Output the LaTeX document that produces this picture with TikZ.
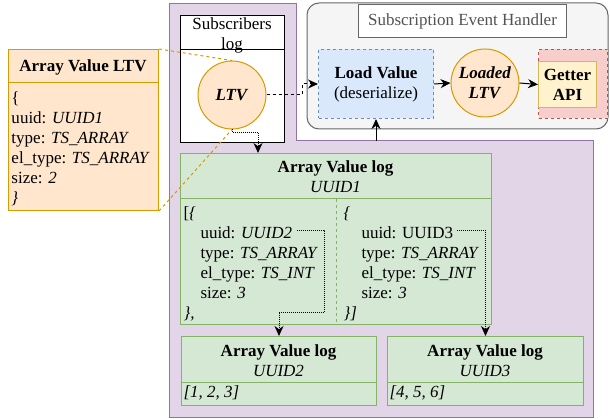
\documentclass[tikz,border=0pt]{standalone}
\usepackage{fontspec}
\setmainfont{Liberation Serif}
\usetikzlibrary{arrows.meta}

\definecolor{plfill}{HTML}{E1D5E7}
\definecolor{plline}{HTML}{9673A6}
\definecolor{hdfill}{HTML}{F5F5F5}
\definecolor{hdline}{HTML}{666666}
\definecolor{grfill}{HTML}{D5E8D4}
\definecolor{grline}{HTML}{82B366}
\definecolor{orfill}{HTML}{FFE6CC}
\definecolor{orline}{HTML}{D79B00}
\definecolor{blfill}{HTML}{DAE8FC}
\definecolor{blline}{HTML}{6C8EBF}
\definecolor{rdfill}{HTML}{F8CECC}
\definecolor{rdline}{HTML}{B85450}
\definecolor{ylfill}{HTML}{FFF2CC}
\definecolor{ylline}{HTML}{D6B656}

\tikzset{
  box/.style={anchor=north west, inner sep=0pt},
  grbox/.style={box, draw=grline, fill=grfill},
  orbox/.style={box, draw=orline, fill=orfill},
  circ/.style={circle, draw=orline, fill=orfill, inner sep=0pt, align=center},
  body/.style={anchor=north west, align=left, inner sep=0pt},
}

\begin{document}
\begin{tikzpicture}[x=1pt, y=-1pt, line width=1pt,
  >={Stealth[length=10pt,width=9pt]},
  every node/.style={font=\fontsize{17}{20}\selectfont}]
\useasboundingbox (0,0) rectangle (610,419);

% log area
\draw[fill=plfill, draw=plline] (169,4) -- (296,4) -- (296,141) -- (593,141) -- (593,417) -- (169,417) -- cycle;

% event handler
\draw[fill=hdfill, draw=hdline, rounded corners=12pt] (307,3) rectangle (608,129);
\node[box, draw=hdline, fill=white, text=hdline!80!black, minimum width=208pt, minimum height=33pt] (sehtitle) at (358,4) {Subscription Event Handler};
\node[box, draw=blline, fill=blfill, dashed, align=center, minimum width=115pt, minimum height=69pt] (loadv) at (318,49) {\textbf{Load Value}\\(deserialize)};
\node[circ, minimum size=68pt] (loaded) at (485,83) {\textbf{\textit{Loaded}}\\\textbf{\textit{LTV}}};
\node[box, draw=rdline, fill=rdfill, dashed, minimum width=69pt, minimum height=69pt] (getterbg) at (538,49) {};
\node[box, draw=ylline, fill=ylfill, align=center, minimum width=58pt, minimum height=46pt] (getter) at (538,61) {\textbf{Getter}\\\textbf{API}};

% subscribers log
\node[box, draw=black, fill=white, minimum width=104pt, minimum height=127pt] (sublog) at (180,15) {};
\node[align=center, inner sep=0pt] (sublogtitle) at (232,35) {Subscribers\\log};
\draw (180,50) -- (284,50);
\node[circ, minimum size=68pt] (ltv) at (232,95) {\textbf{\textit{LTV}}};

% array value LTV
\node[orbox, minimum width=150pt, minimum height=161pt] (avltv) at (8,49) {};
\draw[orline] (8,83) -- (158,83);
\node (avltvtitle) at (83,67) {\textbf{Array Value LTV}};
\node[body] (avltvbody) at (11,91) {\{\\uuid: \textit{UUID1}\\type: \textit{TS\_ARRAY}\\el\_type: \textit{TS\_ARRAY}\\size: \textit{2}\\\textit{\}}};

% array value logs
\node[grbox, minimum width=311pt, minimum height=171pt] (avl1) at (180,153) {};
\draw[grline] (180,199) -- (491,199);
\draw[grline, dashed] (336,199) -- (336,324);
\node[align=center, inner sep=0pt] (avl1title) at (335.5,177) {\textbf{Array Value log}\\\textit{UUID1}};
\node[body] (avl1left) at (183,206) {[\textit{\{}\\\hspace*{17pt}uuid: \textit{UUID2}\\\hspace*{17pt}type: \textit{TS\_ARRAY}\\\hspace*{17pt}el\_type: \textit{TS\_INT}\\\hspace*{17pt}size: \textit{3}\\\textit{\},}};
\node[body] (avl1right) at (343,206) {\textit{\{}\\\hspace*{18pt}uuid: UUID3\\\hspace*{18pt}type: \textit{TS\_ARRAY}\\\hspace*{18pt}el\_type: \textit{TS\_INT}\\\hspace*{18pt}size: \textit{3}\\\textit{\}]}};

\node[grbox, minimum width=195pt, minimum height=69pt] (avl2) at (181,336) {};
\draw[grline] (181,382) -- (376,382);
\node[align=center, inner sep=0pt] (avl2title) at (278.5,361) {\textbf{Array Value log}\\\textit{UUID2}};
\node[anchor=base west, inner sep=0pt] (avl2body) at (183,397) {\textit{[1, 2, 3]}};

\node[grbox, minimum width=196pt, minimum height=69pt] (avl3) at (387,336) {};
\draw[grline] (387,382) -- (583,382);
\node[align=center, inner sep=0pt] (avl3title) at (485,361) {\textbf{Array Value log}\\\textit{UUID3}};
\node[anchor=base west, inner sep=0pt] (avl3body) at (389,397) {\textit{[4, 5, 6]}};

% connectors
\coordinate (ltvbend) at (302,95);
\coordinate (ltvdrop) at (258,133);
\coordinate (avl1in) at (258,153);
\coordinate (logtop) at (376,141);
\coordinate (uuid2ref) at (297,230.5);
\coordinate (uuid2bend) at (324,313);
\coordinate (uuid3ref) at (457,230.5);

\draw[orline, dashed] (avltv.north east) -- (ltv.north);
\draw[orline, dashed] (avltv.south east) -- (ltv.south);
\draw[dashed, ->] (ltv.east) -- (ltvbend) |- (loadv.west);
\draw[densely dotted, ->] (ltv.south) |- (ltvdrop) -- (avl1in);
\draw[->] (logtop) -- (loadv.south);
\draw[->] (loadv.east) -- (loaded.west);
\draw[->] (loaded.east) -- (getter.west);
\draw[densely dotted, ->] (uuid2ref) -| (uuid2bend) -| (avl2.north);
\draw[densely dotted, ->] (uuid3ref) -| (avl3.north);
\end{tikzpicture}
\end{document}
